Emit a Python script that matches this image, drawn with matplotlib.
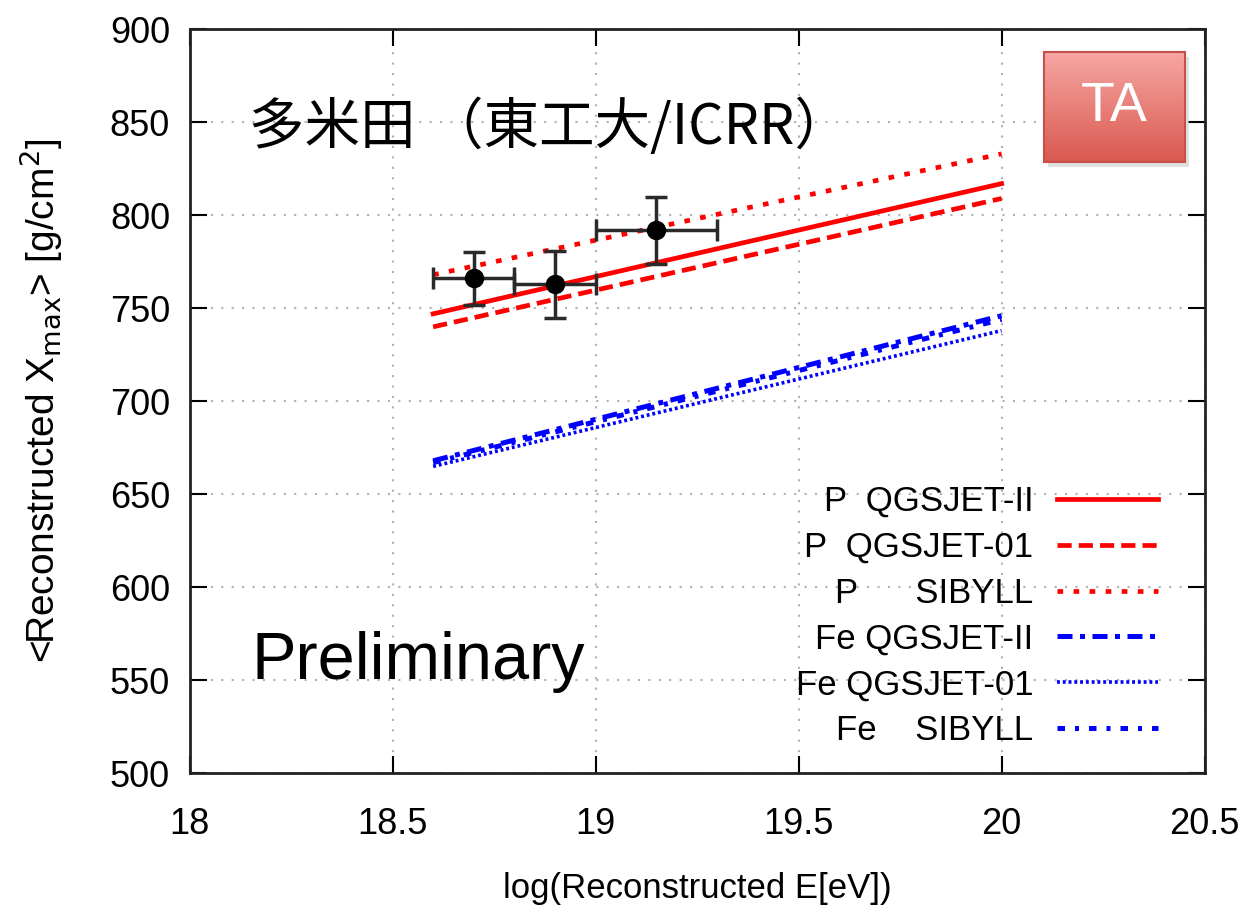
import matplotlib
matplotlib.use('Agg')
import matplotlib.pyplot as plt
import numpy as np

# model lines: energy endpoints and <Xmax> at each end
energy_range = [18.6, 20.0]
p_qgsjet2 = [747, 817]
p_qgsjet01 = [740, 809]
p_sibyll = [768, 833]
fe_qgsjet2 = [668, 746]
fe_qgsjet01 = [665, 738]
fe_sibyll = [667, 744]

# data points
data_e = [18.7, 18.9, 19.15]
data_xmax = [766, 763, 792]
data_xerr = [0.1, 0.1, 0.15]
data_yerr = [14, 18, 18]

x_ticks = [18, 18.5, 19, 19.5, 20, 20.5]
x_ticklabels = ['18', '18.5', '19', '19.5', '20', '20.5']
y_ticks = [500, 550, 600, 650, 700, 750, 800, 850, 900]

plt.rcParams['font.family'] = ['Liberation Sans', 'DejaVu Sans']

fig = plt.figure(figsize=(12.47, 9.13), dpi=100)
ax = fig.add_axes([0.152, 0.153, 0.814, 0.815])

ax.plot(energy_range, p_qgsjet2, color='#ff0000', lw=3.4, ls='-', label='P  QGSJET-II')
ax.plot(energy_range, p_qgsjet01, color='#ff0000', lw=3.4, ls=(0, (3, 1.5)), label='P  QGSJET-01')
ax.plot(energy_range, p_sibyll, color='#ff0000', lw=3.4, ls=(0, (1.2, 2.2)), label='P      SIBYLL')
ax.plot(energy_range, fe_qgsjet2, color='#0000ff', lw=3.6, ls=(0, (3, 1.5, 1, 1.5)), label='Fe QGSJET-II')
ax.plot(energy_range, fe_qgsjet01, color='#0000ff', lw=2.6, ls=(0, (0.8, 0.8)), label='Fe QGSJET-01')
ax.plot(energy_range, fe_sibyll, color='#0000ff', lw=3.6, ls=(0, (1.5, 2, 0.8, 2)), label='Fe    SIBYLL')

ax.errorbar(data_e, data_xmax, xerr=data_xerr, yerr=data_yerr, fmt='o', color='black',
            ecolor='#2a2a2a', ms=13, elinewidth=2.5, capsize=8, capthick=2.5, zorder=5)

ax.set_xlim(18, 20.5)
ax.set_ylim(500, 900)
ax.set_xticks(x_ticks)
ax.set_xticklabels(x_ticklabels)
ax.set_yticks(y_ticks)
ax.tick_params(direction='in', length=12, width=1.5, labelsize=26,
               top=True, right=True)
ax.tick_params(axis='x', pad=24)
ax.tick_params(axis='y', pad=14)
ax.grid(True, color='#b0b0b0', ls=(0, (1, 4)), lw=1.5)
for s in ax.spines.values():
    s.set_linewidth(2)
    s.set_color('#222222')

ax.set_xlabel('log(Reconstructed E[eV])', fontsize=25, labelpad=22)
ax.set_ylabel('<Reconstructed X$_{\\rm max}$> [g/cm$^2$]', fontsize=28, labelpad=32)

leg = ax.legend(loc='lower right', bbox_to_anchor=(0.985, -0.007), frameon=False,
                markerfirst=False, handlelength=2.9, labelspacing=0.37,
                handletextpad=0.7, prop={'family': 'Liberation Sans', 'size': 25})
for t in leg.get_texts():
    t.set_ha('right')
leg._legend_box.align = 'right'

ax.text(0.059, 0.867, '多米田 （東工大/ICRR）', transform=ax.transAxes, fontsize=40,
        family=['Noto Sans CJK JP', 'DejaVu Sans'], va='center', ha='left')
ax.text(0.061, 0.149, 'Preliminary', transform=ax.transAxes, fontsize=48,
        family='Liberation Sans', va='center', ha='left')

# TA badge: soft shadow then gradient box
sax = fig.add_axes([1048 / 1247, 1 - 167 / 913, 141 / 1247, 110 / 913])
sax.set_facecolor('#cccccc')
sax.patch.set_alpha(0.6)
sax.set_xticks([])
sax.set_yticks([])
for s in sax.spines.values():
    s.set_visible(False)

bax = fig.add_axes([1044 / 1247, 1 - 162 / 913, 141 / 1247, 110 / 913])
grad = np.linspace(0, 1, 100).reshape(-1, 1)
cmap = matplotlib.colors.LinearSegmentedColormap.from_list('ta', ['#f7a6a3', '#d95a50'])
bax.imshow(grad, aspect='auto', cmap=cmap, extent=[0, 1, 0, 1], origin='upper')
bax.set_xticks([])
bax.set_yticks([])
for s in bax.spines.values():
    s.set_color('#c8504a')
    s.set_linewidth(1.5)
bax.text(0.5, 0.5, 'TA', color='white', fontsize=40, ha='center', va='center',
         family='Liberation Sans', transform=bax.transAxes)

fig.savefig('out.png', dpi=100)
